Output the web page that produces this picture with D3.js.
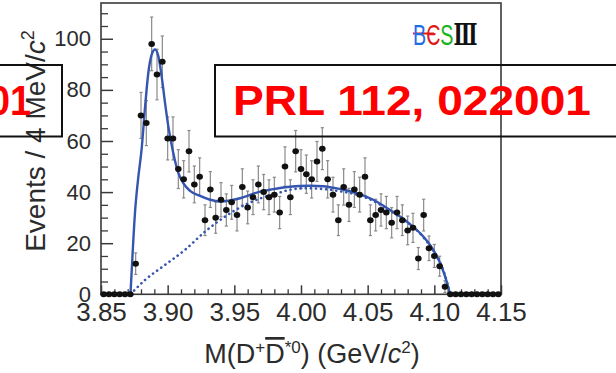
<!DOCTYPE html>
<html>
<head>
<meta charset="utf-8">
<script src="https://cdn.jsdelivr.net/npm/d3@7"></script>
<style>
  html, body { margin: 0; padding: 0; background: #fff; }
  svg { display: block; }
  text { font-family: "Liberation Sans", Arial, Helvetica, sans-serif; }
</style>
</head>
<body>
<svg id="chart" width="616" height="373"></svg>
<script>
// Histogram of M(D+ D*0bar): 4 MeV bins from 3.85 to 4.15 GeV/c^2
const histLow = 3.85;
const binWidth = 0.004;
const counts = [0,0,0,0,0,0,
  12,70,67,98,86,91,61,61,49,45,
  56,43,46,29,41,30,37,33,36,31,
  42,34,38,43,40,38,39,32,50,38,
  56,49,47,45,52,57,45,39,29,42,
  35,41,39,46,29,31,33,32,28,32,
  29,25,26,14,31,18,15,11,3,
  0,0,0,0,0,0,0,0,0,0];
const errors = [0,0,0,0,0,0,
  4.2,9,8.8,10.5,9.9,10.1,8.4,8.4,7.6,7.3,
  8.1,7.2,7.4,6,7,6.1,6.7,6.3,6.6,6.2,
  7.1,6.4,6.8,7.2,6.9,6.8,6.8,6.3,7.7,6.8,
  8.1,7.6,7.5,7.3,7.8,8.2,7.3,6.8,6,7.1,
  6.5,7,6.8,7.4,6,6.2,6.3,6.3,5.9,6.3,
  6,5.6,5.7,4.3,6.2,4.8,4.5,3.9,2.3,
  0,0,0,0,0,0,0,0,0,0];

// Total fit (solid)
const fitMass = [3.8721,3.8736,3.8755,3.8778,3.8805,3.883,3.8855,3.888,3.8905,3.893,
  3.8955,3.898,3.9005,3.9042,3.908,3.9117,3.9168,3.9243,3.9318,3.9393,
  3.9468,3.9543,3.9618,3.9693,3.9768,3.9843,3.9918,3.9993,4.0068,4.0165,
  4.0293,4.0418,4.0542,4.0668,4.0793,4.0917,4.0992,4.1055,4.1093,4.1118];
const fitValue = [0,15,32,45,57,73,86.7,93.8,95.8,93.2,
  85.3,75,65.7,55.3,47.5,43.5,40.5,38.5,37,36.3,
  36.7,37.6,38.9,40.2,40.9,41.6,42.1,42.4,42.5,42.3,
  41.2,39.6,37,33,28.5,22.6,17.4,10.8,4.9,0];

// Background component (dotted)
const bkgMass = [3.8721,3.883,3.898,3.913,3.928,3.943,3.958,3.9693,3.979,3.9918,
  4.003,4.0143,4.0293,4.042,4.054,4.0668,4.0795,4.0915,4.099,4.1058,4.1095,4.1118];
const bkgValue = [0,5.6,11.5,17.4,24.5,30.4,35,37.5,39,40.9,
  41.5,41.3,40.3,39,36.6,32.7,28.3,22.5,17.3,10.7,4.8,0];

const xMajor = [3.85,3.90,3.95,4.00,4.05,4.10,4.15];
const xMinor = [3.86,3.87,3.88,3.89,3.91,3.92,3.93,3.94,3.96,3.97,3.98,3.99,
  4.01,4.02,4.03,4.04,4.06,4.07,4.08,4.09,4.11,4.12,4.13,4.14];
const yMajor = [0,20,40,60,80,100];
const yMinor = [5,10,15,25,30,35,45,50,55,65,70,75,85,90,95,105,110];

const refText = "PRL 112, 022001";
const refTail = "01";

const svg = d3.select("#chart");
const plotL = 101, plotR = 501, plotT = 3, plotB = 294.3;
const x = d3.scaleLinear().domain([3.85, 4.15]).range([plotL, plotR]);
const y = d3.scaleLinear().domain([0, 114]).range([plotB, plotT]);

const axisColor = "#3a3a3a";
const blue = "#3556b0";

// Ticks (inward) and labels
const gx = svg.append("g").attr("transform", `translate(0,${plotB})`)
  .call(d3.axisBottom(x).tickValues(xMajor).tickSize(-9).tickPadding(8.5)
    .tickFormat(d3.format(".2f")));
gx.select(".domain").remove();
gx.selectAll("line").attr("stroke", axisColor).attr("stroke-width", 1.5);
gx.selectAll("text").attr("font-size", 26).attr("fill", "#2b2b2b")
  .attr("font-family", "'Liberation Sans', Arial, sans-serif");

const gxm = svg.append("g").attr("transform", `translate(0,${plotB})`)
  .call(d3.axisBottom(x).tickValues(xMinor).tickSize(-5).tickFormat(""));
gxm.select(".domain").remove();
gxm.selectAll("line").attr("stroke", axisColor).attr("stroke-width", 1.3);

const gy = svg.append("g").attr("transform", `translate(${plotL},0)`)
  .call(d3.axisLeft(y).tickValues(yMajor).tickSize(-12).tickPadding(10));
gy.select(".domain").remove();
gy.selectAll("line").attr("stroke", axisColor).attr("stroke-width", 1.5);
gy.selectAll("text").attr("font-size", 22).attr("fill", "#2b2b2b")
  .attr("font-family", "'Liberation Sans', Arial, sans-serif");

const gym = svg.append("g").attr("transform", `translate(${plotL},0)`)
  .call(d3.axisLeft(y).tickValues(yMinor).tickSize(-7).tickFormat(""));
gym.select(".domain").remove();
gym.selectAll("line").attr("stroke", axisColor).attr("stroke-width", 1.3);

// Plot frame
svg.append("rect")
  .attr("x", plotL).attr("y", plotT)
  .attr("width", plotR - plotL).attr("height", plotB - plotT)
  .attr("fill", "none").attr("stroke", axisColor).attr("stroke-width", 1.6);

// Data points with error bars
const bins = counts.map((c, i) => ({
  m: histLow + (i + 0.5) * binWidth, n: c, e: errors[i]
}));

const eb = svg.append("g").attr("stroke", "#8a8a8a").attr("stroke-width", 1.2);
bins.filter(d => d.e > 0).forEach(d => {
  const cx = x(d.m);
  eb.append("line").attr("x1", cx).attr("x2", cx)
    .attr("y1", y(d.n - d.e)).attr("y2", y(d.n + d.e));
  eb.append("line").attr("x1", cx - 1.6).attr("x2", cx + 1.6)
    .attr("y1", y(d.n + d.e)).attr("y2", y(d.n + d.e));
  eb.append("line").attr("x1", cx - 1.6).attr("x2", cx + 1.6)
    .attr("y1", y(d.n - d.e)).attr("y2", y(d.n - d.e));
});

// Curves
const line = d3.line().x(d => x(d[0])).y(d => y(d[1])).curve(d3.curveMonotoneX);
svg.append("path")
  .datum(bkgMass.map((m, i) => [m, bkgValue[i]]))
  .attr("d", line).attr("fill", "none").attr("stroke", blue)
  .attr("stroke-width", 2.6).attr("stroke-linecap", "round")
  .attr("stroke-dasharray", "0.1,5");
svg.append("path")
  .datum(fitMass.map((m, i) => [m, fitValue[i]]))
  .attr("d", line).attr("fill", "none").attr("stroke", blue)
  .attr("stroke-width", 2.4);

svg.append("g").selectAll("ellipse").data(bins).join("ellipse")
  .attr("cx", d => x(d.m)).attr("cy", d => y(d.n))
  .attr("rx", 3.3).attr("ry", 3).attr("fill", "#111");

// Axis titles
const xt = svg.append("text").attr("x", 312).attr("y", 363)
  .attr("text-anchor", "middle").attr("font-size", 27).attr("fill", "#2b2b2b");
xt.append("tspan").text("M(D");
xt.append("tspan").attr("dy", -10).attr("font-size", 17).text("+");
xt.append("tspan").attr("dy", 10).attr("text-decoration", "overline").text("D");
xt.append("tspan").attr("dy", -10).attr("font-size", 17).text("*0");
xt.append("tspan").attr("dy", 10).text(") (GeV/");
xt.append("tspan").attr("font-style", "italic").text("c");
xt.append("tspan").attr("dy", -10).attr("font-size", 17).text("2");
xt.append("tspan").attr("dy", 10).text(")");

const yt = svg.append("text").attr("transform", "translate(45,141) rotate(-90)")
  .attr("text-anchor", "middle").attr("font-size", 28).attr("fill", "#2b2b2b");
yt.append("tspan").text("Events / 4 MeV/");
yt.append("tspan").attr("font-style", "italic").text("c");
yt.append("tspan").attr("dy", -11).attr("font-size", 18).text("2");

// BESIII logo (horizontally condensed)
const logo = svg.append("g").attr("transform", "translate(413,44.5) scale(0.68,1)");
logo.append("line").attr("x1", 0).attr("x2", 31).attr("y1", -11).attr("y2", -11)
  .attr("stroke", "#e01818").attr("stroke-width", 2);
const lt = logo.append("text").attr("x", 0).attr("y", 0)
  .attr("font-size", 29).attr("font-family", "'DejaVu Sans', sans-serif");
lt.append("tspan").attr("fill", "#1f6ee8").text("B");
lt.append("tspan").attr("fill", "#e01818").text("Є");
lt.append("tspan").attr("fill", "#19b31e").text("S");
lt.append("tspan").attr("fill", "#111").attr("font-family", "'DejaVu Serif', serif")
  .attr("font-weight", "bold").text("Ⅲ");

// Reference boxes
const boxes = svg.append("g").attr("fill", "none").attr("stroke", "#111").attr("stroke-width", 2);
boxes.append("rect").attr("x", 215).attr("y", 65).attr("width", 420).attr("height", 71.5);
boxes.append("rect").attr("x", -400).attr("y", 65).attr("width", 462).attr("height", 71.5);

const refFont = "'Comic Sans MS', 'DejaVu Sans', sans-serif";
svg.append("text").attr("x", 233).attr("y", 115)
  .attr("font-size", 42).attr("font-weight", "bold").attr("font-family", refFont)
  .attr("fill", "#ff0000").attr("textLength", 358).attr("lengthAdjust", "spacingAndGlyphs")
  .text(refText);
svg.append("text").attr("x", 31).attr("y", 115).attr("text-anchor", "end")
  .attr("font-size", 42).attr("font-weight", "bold").attr("font-family", refFont)
  .attr("fill", "#ff0000").attr("transform", "translate(31,0) scale(0.9,1) translate(-31,0)")
  .text(refTail);
</script>
</body>
</html>
